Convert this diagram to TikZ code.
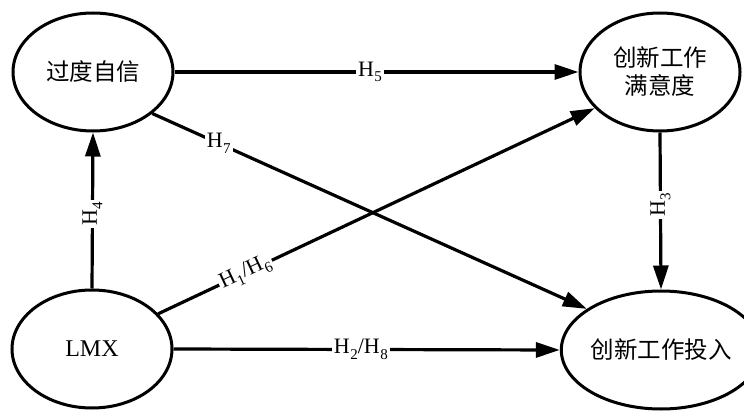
\documentclass[tikz,border=0pt]{standalone}
\usepackage{fontspec}
\setmainfont{Liberation Serif}
\newfontfamily\cjk{Noto Sans CJK SC}
\usetikzlibrary{shapes.geometric,arrows.meta}
\newcommand{\hsub}[1]{H\kern0.5pt\raisebox{-0.55ex}{\fontsize{15}{16}\selectfont #1}}
\begin{document}
\begin{tikzpicture}[x=1pt,y=-1pt,
  ell/.style={draw,ellipse,line width=3pt,minimum width=160pt,minimum height=118pt,inner sep=0pt,align=center},
  cn/.style={font=\cjk\fontsize{23.5}{28}\selectfont},
  arr/.style={line width=3.2pt,-{Triangle[length=24pt,width=15pt]}},
  lab/.style={fill=white,inner sep=2pt,font=\fontsize{22}{24}\selectfont}]
\useasboundingbox (0,0) rectangle (744,417);
\node[ell,cn] (oc) at (93,72) {过度自信};
\node[ell,cn] (ws) at (660,72) {创新工作\\满意度};
\node[ell,font=\fontsize{24}{26}\selectfont] (lmx) at (92,349) {LMX};
\node[ell,cn,minimum width=162pt] (inv) at (661,350) {创新工作投入};
\draw[arr] (oc.east) -- node[lab,pos=0.484]{\hsub{5}} (ws.west);
\draw[arr] (lmx.east) -- node[lab,pos=0.485]{\hsub{2}/\hsub{8}} (inv.west);
\draw[arr] (lmx.north) -- node[lab,pos=0.48,rotate=90]{\hsub{4}} (oc.south);
\draw[arr] (ws.south) -- node[lab,pos=0.46,rotate=90]{\hsub{3}} (inv.north);
\draw[arr] (oc.-35) -- node[lab,pos=0.153]{\hsub{7}} (inv.151);
\draw[arr] (lmx.28) -- node[lab,pos=0.2,sloped]{\hsub{1}/\hsub{6}} (ws.-151);
\end{tikzpicture}
\end{document}
